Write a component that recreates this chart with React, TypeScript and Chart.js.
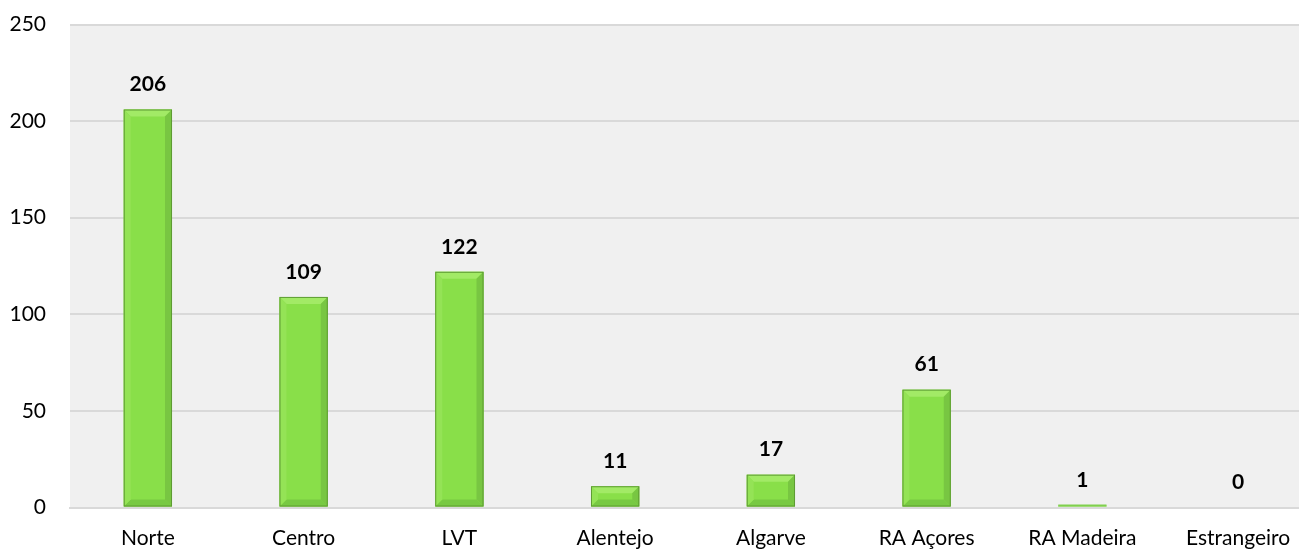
import React, { useEffect, useRef } from "react";
import { Chart, registerables } from "chart.js";

Chart.register(...registerables);

const categories = ["Norte", "Centro", "LVT", "Alentejo", "Algarve", "RA Açores", "RA Madeira", "Estrangeiro"];
const values = [206, 109, 122, 11, 17, 61, 1, 0];
const yTicks = [0, 50, 100, 150, 200, 250];

const FONT = "Lato, 'Noto Sans', sans-serif";

const plotBg = {
  id: "plotBg",
  beforeDraw(chart: any) {
    const { ctx, chartArea } = chart;
    ctx.save();
    ctx.fillStyle = "#f0f0f0";
    ctx.fillRect(chartArea.left, chartArea.top, chartArea.right - chartArea.left, chartArea.bottom - chartArea.top);
    ctx.restore();
  },
};

const bevelAndLabels = {
  id: "bevelAndLabels",
  afterDatasetsDraw(chart: any) {
    const { ctx } = chart;
    const meta = chart.getDatasetMeta(0);
    meta.data.forEach((bar: any, i: number) => {
      const w = bar.width;
      const x0 = bar.x - w / 2;
      const x1 = bar.x + w / 2;
      const y0 = Math.min(bar.y, bar.base);
      const y1 = Math.max(bar.y, bar.base);
      const h = y1 - y0;
      if (h > 3) {
        const b = Math.min(7, w / 2, h / 2);
        const poly = (pts: number[][], c: string) => {
          ctx.beginPath();
          ctx.moveTo(pts[0][0], pts[0][1]);
          for (let k = 1; k < pts.length; k++) ctx.lineTo(pts[k][0], pts[k][1]);
          ctx.closePath();
          ctx.fillStyle = c;
          ctx.fill();
        };
        ctx.save();
        poly([[x0, y0], [x1, y0], [x1 - b, y0 + b], [x0 + b, y0 + b]], "#a2ea66");
        poly([[x0, y1], [x1, y1], [x1 - b, y1 - b], [x0 + b, y1 - b]], "#78c943");
        poly([[x0, y0], [x0 + b, y0 + b], [x0 + b, y1 - b], [x0, y1]], "#94e356");
        poly([[x1, y0], [x1 - b, y0 + b], [x1 - b, y1 - b], [x1, y1]], "#78c642");
        ctx.strokeStyle = "#5e9c33";
        ctx.lineWidth = 1;
        ctx.strokeRect(x0 + 0.5, y0 + 0.5, w - 1, h - 1);
        ctx.restore();
      } else if (h > 0) {
        ctx.save();
        ctx.fillStyle = "#80cf4e";
        ctx.fillRect(x0, y1 - 2, w, 2);
        ctx.restore();
      }
      ctx.save();
      ctx.font = `bold 21px ${FONT}`;
      ctx.fillStyle = "#000";
      ctx.textAlign = "center";
      ctx.textBaseline = "middle";
      ctx.fillText(String(values[i]), bar.x, bar.y - 25);
      ctx.restore();
    });
  },
};

export default function App() {
  const ref = useRef<HTMLCanvasElement>(null);
  useEffect(() => {
    if (!ref.current) return;
    const chart = new Chart(ref.current, {
      type: "bar",
      data: {
        labels: categories,
        datasets: [
          {
            data: values,
            backgroundColor: "#89df49",
            borderColor: "#89df49",
            borderWidth: 0,
            barPercentage: 0.31,
            categoryPercentage: 1,
          },
        ],
      },
      options: {
        responsive: false,
        animation: false,
        devicePixelRatio: 1,
        layout: { padding: { top: 24.5, left: 0, right: 0, bottom: 0 } },
        plugins: { legend: { display: false }, tooltip: { enabled: false }, title: { display: false } },
        scales: {
          x: {
            grid: { display: false, drawTicks: false },
            border: { display: true, color: "#d9d9d9", width: 2 },
            ticks: { color: "#000", font: { family: FONT, size: 21 }, padding: 18, maxRotation: 0, autoSkip: false },
            afterFit(scale: any) {
              scale.height = 41.5;
              scale.paddingLeft = 0;
              scale.paddingRight = 0;
            },
          },
          y: {
            min: 0,
            max: 250,
            afterBuildTicks(scale: any) {
              scale.ticks = yTicks.map((v) => ({ value: v }));
            },
            grid: { color: "#d9d9d9", lineWidth: 2, drawTicks: false },
            border: { display: false },
            ticks: { color: "#000", font: { family: FONT, size: 21 }, padding: 24 },
            afterFit(scale: any) {
              scale.width = 70;
              scale.paddingTop = 0;
              scale.paddingBottom = 0;
            },
          },
        },
      },
      plugins: [plotBg, bevelAndLabels],
    });
    return () => chart.destroy();
  }, []);
  return (
    <div style={{ position: "fixed", left: 0, top: 0, width: 1299, height: 549, overflow: "hidden", background: "#fff" }}>
      <canvas ref={ref} width={1316} height={549} style={{ display: "block", width: 1316, height: 549 }} />
    </div>
  );
}
